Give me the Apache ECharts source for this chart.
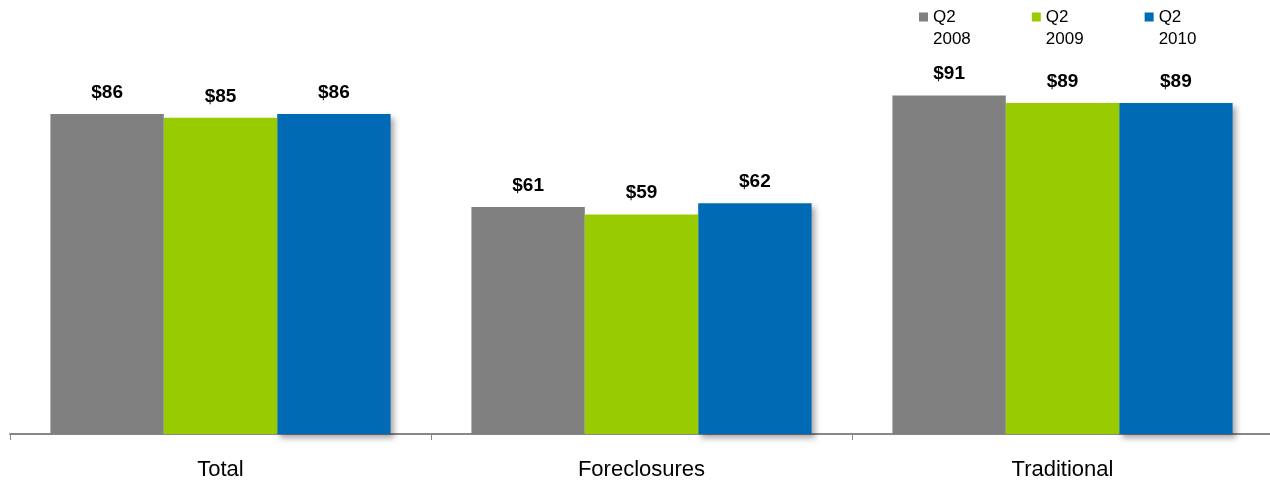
<!DOCTYPE html>
<html>
<head>
<meta charset="utf-8">
<script src="https://cdn.jsdelivr.net/npm/echarts@6/dist/echarts.min.js"></script>
<style>
  html, body { margin: 0; padding: 0; background: #fff; }
  #chart { width: 1270px; height: 480px; }
</style>
</head>
<body>
<div id="chart"></div>
<script>
// Median price by sale type, Q2 of each year ($ thousands)
const categories = ['Total', 'Foreclosures', 'Traditional'];
const seriesNames = ['Q2 2008', 'Q2 2009', 'Q2 2010'];
const q2_2008 = [86, 61, 91];
const q2_2009 = [85, 59, 89];
const q2_2010 = [86, 62, 89];
const colors = ['#808080', '#99CC00', '#006AB5'];

const values = [q2_2008, q2_2009, q2_2010];
const FONT = 'Liberation Sans, Arial, sans-serif';

// Legend swatch: a 9x9 square sitting at the top of a taller box,
// so it lines up with the first line of the two-line legend text.
const swatch = 'path://M0,0h9v9h-9zM0,31h0.001v0.001h-0.001z';

const chart = echarts.init(document.getElementById('chart'));

const series = seriesNames.map((name, i) => ({
  name: name,
  type: 'bar',
  data: values[i],
  barGap: '0%',
  barCategoryGap: '19.2%',
  itemStyle: Object.assign(
    { color: colors[i] },
    i === 2 ? {
      shadowColor: 'rgba(0,0,0,0.35)',
      shadowBlur: 6,
      shadowOffsetX: 3,
      shadowOffsetY: 4
    } : {}
  ),
  label: {
    show: true,
    position: 'top',
    distance: 12,
    formatter: p => '$' + p.value,
    fontFamily: FONT,
    fontWeight: 'bold',
    fontSize: 19,
    color: '#000'
  },
  z: i === 2 ? 1 : 2
}));

chart.setOption({
  animation: false,
  color: colors,
  legend: {
    data: seriesNames.map(n => ({ name: n, icon: swatch })),
    left: 914,
    top: 1,
    padding: 5,
    itemWidth: 9,
    itemHeight: 31,
    itemGap: 61,
    formatter: name => name.replace(' ', '\n'),
    textStyle: {
      fontFamily: FONT,
      fontSize: 17,
      lineHeight: 22,
      color: '#000'
    }
  },
  grid: {
    left: 10,
    width: 1263,
    top: 62,
    bottom: 46,
    containLabel: false,
    outerBoundsMode: 'none'
  },
  xAxis: {
    type: 'category',
    data: categories,
    axisLine: { lineStyle: { color: '#888', width: 2 } },
    axisTick: { show: true, length: 6, lineStyle: { color: '#888', width: 1 } },
    axisLabel: {
      margin: 25,
      fontFamily: FONT,
      fontSize: 22,
      color: '#000'
    }
  },
  yAxis: {
    type: 'value',
    min: 0,
    max: 100,
    show: false,
    splitLine: { show: false }
  },
  series: series
});
</script>
</body>
</html>
